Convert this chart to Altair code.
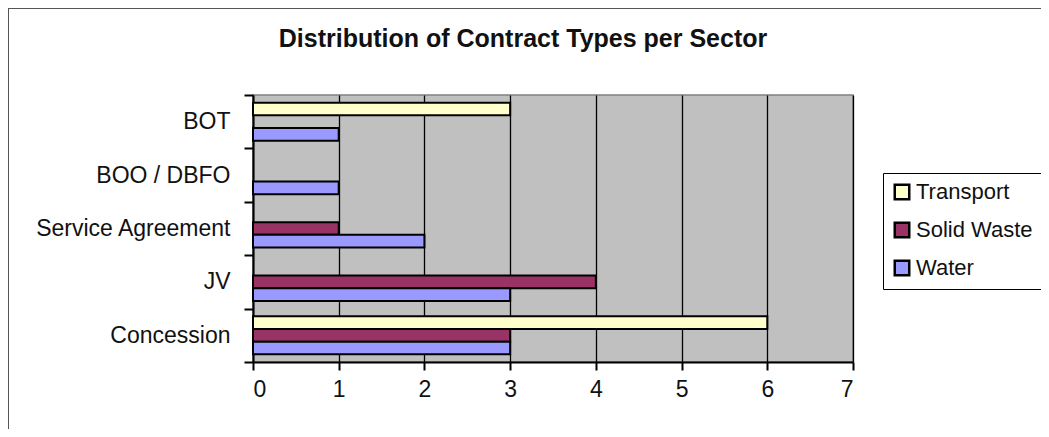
import altair as alt
import pandas as pd

contracts = ["BOT", "BOO / DBFO", "Service Agreement", "JV", "Concession"]
sectors = ["Transport", "Solid Waste", "Water"]
transport = [3, 0, 0, 0, 6]
solid_waste = [0, 0, 1, 4, 3]
water = [1, 1, 2, 3, 3]
sector_colors = ["#FFFFCC", "#993366", "#9999FF"]
x_ticks = [0, 1, 2, 3, 4, 5, 6, 7]

rows = []
for sector, vals in zip(sectors, [transport, solid_waste, water]):
    for c, v in zip(contracts, vals):
        rows.append({"contract": c, "sector": sector, "value": v})
df = pd.DataFrame(rows)

FONT = "Liberation Sans"
TXT = "#111111"

bars = alt.Chart(df).transform_filter("datum.value > 0").mark_bar(
    stroke="black", strokeWidth=2
).encode(
    x=alt.X("value:Q",
            scale=alt.Scale(domain=[0, 7], nice=False),
            axis=alt.Axis(values=x_ticks, title=None, grid=True, gridColor="black",
                          gridWidth=1.3, domainColor="black", domainWidth=2,
                          tickColor="black", tickWidth=2, tickSize=8,
                          labelFontSize=23, labelPadding=8, labelColor=TXT,
                          labelFont=FONT)),
    y=alt.Y("contract:N", sort=contracts,
            scale=alt.Scale(paddingInner=0, paddingOuter=0),
            axis=alt.Axis(title=None, tickBand="extent", domainColor="black",
                          domainWidth=2, tickColor="black", tickWidth=2, tickSize=9,
                          labelFontSize=23, labelPadding=14, labelColor=TXT,
                          labelFont=FONT, labelLimit=400, grid=False)),
    yOffset=alt.YOffset("sector:N", sort=sectors,
                        scale=alt.Scale(domain=sectors, paddingInner=0, paddingOuter=0.6)),
    fill=alt.Fill("sector:N", sort=sectors,
                  scale=alt.Scale(domain=sectors, range=sector_colors),
                  legend=alt.Legend(title=None, orient="none", legendX=630, legendY=78,
                                    strokeColor="black", fillColor="white", padding=8,
                                    labelFontSize=22, labelFont=FONT, labelColor=TXT,
                                    symbolType="square", symbolSize=210,
                                    symbolStrokeColor="black", symbolStrokeWidth=2.5,
                                    rowPadding=12, labelOffset=3, labelLimit=300)),
)

frame = alt.Chart(alt.Data(values=[{"f": 1}])).mark_rect(
    fillOpacity=0, stroke="#555555", strokeWidth=2
).encode(
    x=alt.value(-245), x2=alt.value(800), y=alt.value(-87), y2=alt.value(360)
)

chart = alt.layer(frame, bars).properties(
    width=600,
    height=267,
    autosize=alt.AutoSizeParams(type="none"),
    padding={"left": 245, "top": 87, "right": 188, "bottom": 67},
    background="white",
    title=alt.TitleParams("Distribution of Contract Types per Sector", fontSize=25,
                          fontWeight="bold", font=FONT, color=TXT,
                          anchor="middle", dx=-30, offset=-45),
).configure_view(fill="#C0C0C0", stroke="#808080", strokeWidth=1.5)

chart.save("out.html", embed_options={"renderer": "svg", "actions": False})
